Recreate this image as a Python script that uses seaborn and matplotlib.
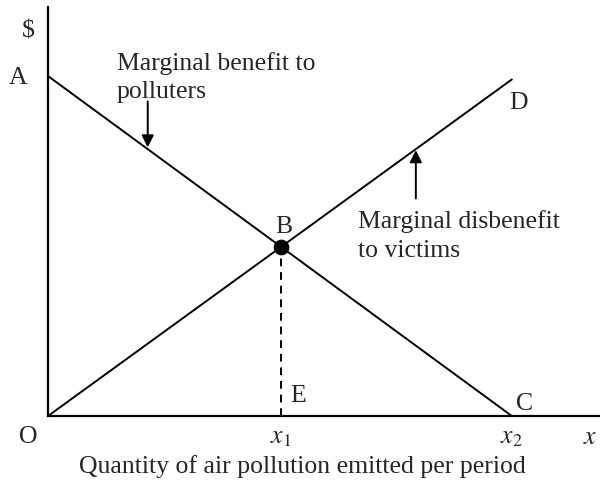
import pandas as pd
import matplotlib.pyplot as plt
import seaborn as sns

# Curve end points (quantity, $)
benefit_x = [0, 10]
benefit_y = [10, 0]
disbenefit_x = [0, 10]
disbenefit_y = [0, 9.9]

# Intersection B
b_x = 10 / (1 + 0.99)
b_y = 10 - b_x

sns.set_style("white")
plt.rcParams['font.family'] = ['Liberation Serif', 'DejaVu Serif']
plt.rcParams['mathtext.fontset'] = 'stix'

fig = plt.figure(figsize=(6, 4.91), dpi=100)
ax = fig.add_axes([0.08, 0.1527, 0.92, 0.833])

benefit = pd.DataFrame({'q': benefit_x, 'v': benefit_y})
disbenefit = pd.DataFrame({'q': disbenefit_x, 'v': disbenefit_y})
sns.lineplot(data=benefit, x='q', y='v', color='black', linewidth=1.4, ax=ax)
sns.lineplot(data=disbenefit, x='q', y='v', color='black', linewidth=1.4, ax=ax)
ax.plot([b_x, b_x], [0, b_y], color='black', linestyle=(0, (4, 3)), linewidth=1.4)
sns.scatterplot(x=[b_x], y=[b_y], color='black', s=110, zorder=5, ax=ax, edgecolor='black')

ax.set_xlim(0, 11.9)
ax.set_ylim(0, 12.03)
for s in ['top', 'right']:
    ax.spines[s].set_visible(False)
for s in ['left', 'bottom']:
    ax.spines[s].set_color('black')
    ax.spines[s].set_linewidth(1.6)

fs = 18.5
ax.set_xticks([b_x, 10, 11.68])
ax.set_xticklabels(['$x_1$', '$x_2$', '$x$'], fontsize=fs)
ax.set_yticks([])
ax.tick_params(axis='x', length=0, pad=8)
ax.set_xlabel('Quantity of air pollution emitted per period', fontsize=fs, labelpad=4)
ax.xaxis.set_label_coords(0.46, -0.095)
ax.set_ylabel('')

# point labels
ax.text(-0.43, -0.62, 'O', fontsize=fs, ha='center', va='center', clip_on=False)
ax.text(-0.43, 11.3, '$', fontsize=fs, ha='center', va='center', clip_on=False)
ax.text(-0.65, 9.95, 'A', fontsize=fs, ha='center', va='center', clip_on=False)
ax.text(b_x + 0.05, 5.55, 'B', fontsize=fs, ha='center', va='center')
ax.text(10.08, 0.35, 'C', fontsize=fs, ha='left', va='center')
ax.text(9.95, 9.2, 'D', fontsize=fs, ha='left', va='center')
ax.text(b_x + 0.2, 0.59, 'E', fontsize=fs, ha='left', va='center')

# curve annotations
ax.text(1.49, 9.95, 'Marginal benefit to\npolluters', fontsize=fs,
        ha='left', va='center', linespacing=1.38)
ax.annotate('', xy=(2.15, 7.9), xytext=(2.15, 9.25),
            arrowprops=dict(arrowstyle='-|>', color='black', lw=1.4,
                            mutation_scale=18, shrinkA=0, shrinkB=0))
ax.text(6.68, 5.3, 'Marginal disbenefit\nto victims', fontsize=fs,
        ha='left', va='center', linespacing=1.4)
ax.annotate('', xy=(7.93, 7.82), xytext=(7.93, 6.4),
            arrowprops=dict(arrowstyle='-|>', color='black', lw=1.4,
                            mutation_scale=18, shrinkA=0, shrinkB=0))

fig.savefig('out.png', dpi=100)
